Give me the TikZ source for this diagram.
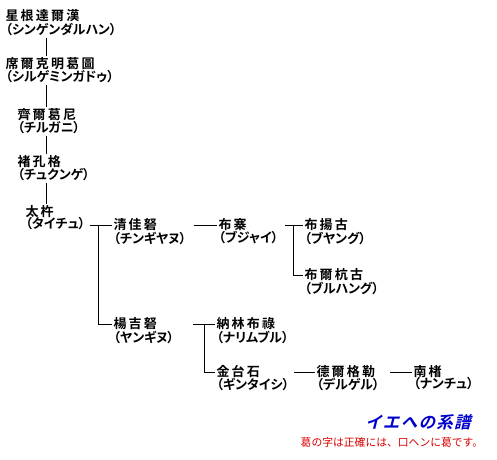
\documentclass[tikz,border=0pt]{standalone}
\usepackage{fontspec}
\newfontfamily\kanjifont{Noto Sans CJK JP Bold}[LetterSpace=17]
\newfontfamily\yomifont{Noto Sans CJK JP Bold}[RawFeature=+palt]
\newfontfamily\titlefont{Noto Sans CJK JP Bold}[FakeSlant=0.25,LetterSpace=8]
\newfontfamily\notefont{Noto Sans CJK JP}
\definecolor{titleblue}{RGB}{0,0,204}
\definecolor{notered}{RGB}{215,0,0}

\begin{document}
\begin{tikzpicture}[x=1pt,y=-1pt,
  kanji/.style={anchor=west, inner sep=1pt, font=\kanjifont\fontsize{13}{15}\selectfont},
  yomi/.style={anchor=west, inner sep=1pt, font=\yomifont\fontsize{13}{15}\selectfont},
  every path/.style={line width=1pt}]
  \useasboundingbox (0,0) rectangle (497,459);

  % Main line
  \node[kanji] (sing) at (4,16) {星根達爾漢};
  \node[yomi] (singK) at (4,30) {（シンゲンダルハン）};
  \node[kanji] (sirg) at (4,64) {席爾克明葛圖};
  \node[yomi] (sirgK) at (4,77) {（シルゲミンガドゥ）};
  \node[kanji] (cirg) at (16,115) {齊爾葛尼};
  \node[yomi] (cirgK) at (16,128) {（チルガニ）};
  \node[kanji] (cuku) at (16,162) {褚孔格};
  \node[yomi] (cukuK) at (16,175) {（チュクンゲ）};
  \node[kanji] (taic) at (24,212) {太杵};
  \node[yomi] (taicK) at (24,224) {（タイチュ）};

  \coordinate (trunk) at (46,0);
  \draw (singK.south -| trunk) -- (sirg.north -| trunk);
  \draw (sirgK.south -| trunk) -- (cirg.north -| trunk);
  \draw (cirgK.south -| trunk) -- (cuku.north -| trunk);
  \draw (cukuK.south -| trunk) -- (taic.north -| trunk);

  % Branches
  \node[kanji] (cing) at (112,225) {清佳砮};
  \node[yomi] (cingK) at (112,238) {（チンギヤヌ）};
  \node[kanji] (yang) at (112,324) {楊吉砮};
  \node[yomi] (yangK) at (112,337) {（ヤンギヌ）};
  \node[kanji] (buja) at (217,225) {布寨};
  \node[yomi] (bujaK) at (217,238) {（ブジャイ）};
  \node[kanji] (buya) at (303,225) {布揚古};
  \node[yomi] (buyaK) at (303,238) {（ブヤング）};
  \node[kanji] (burh) at (303,275) {布爾杭古};
  \node[yomi] (burhK) at (303,288) {（ブルハング）};
  \node[kanji] (nari) at (215,324) {納林布祿};
  \node[yomi] (nariK) at (215,337) {（ナリムブル）};
  \node[kanji] (gint) at (215,372) {金台石};
  \node[yomi] (gintK) at (215,384) {（ギンタイシ）};
  \node[kanji] (delg) at (315,372) {德爾格勒};
  \node[yomi] (delgK) at (315,384) {（デルゲル）};
  \node[kanji] (nanc) at (412,372) {南楮};
  \node[yomi] (nancK) at (412,384) {（ナンチュ）};

  \coordinate (t1) at (90,225);
  \coordinate (forkA) at (98,225);
  \coordinate (t2) at (194,225);
  \coordinate (t3) at (285,225);
  \coordinate (forkB) at (293,225);
  \coordinate (t4) at (193,324);
  \coordinate (forkC) at (204,324);
  \coordinate (t5) at (294,372);
  \coordinate (t6) at (390,372);

  \draw (t1) -- (cing.west);
  \draw (forkA) |- (yang.west);
  \draw (t2) -- (buja.west);
  \draw (t3) -- (buya.west);
  \draw (forkB) |- (burh.west);
  \draw (t4) -- (nari.west);
  \draw (forkC) |- (gint.west);
  \draw (t5) -- (delg.west);
  \draw (t6) -- (nanc.west);

  % Title and note
  \node[titleblue, font=\titlefont\fontsize{16.5}{18}\selectfont] (ttl) at (418,422) {イエへの系譜};
  \node[notered, font=\notefont\fontsize{10.8}{12}\selectfont] (note) at (392,442) {葛の字は正確には、口ヘンに葛です。};
\end{tikzpicture}
\end{document}
